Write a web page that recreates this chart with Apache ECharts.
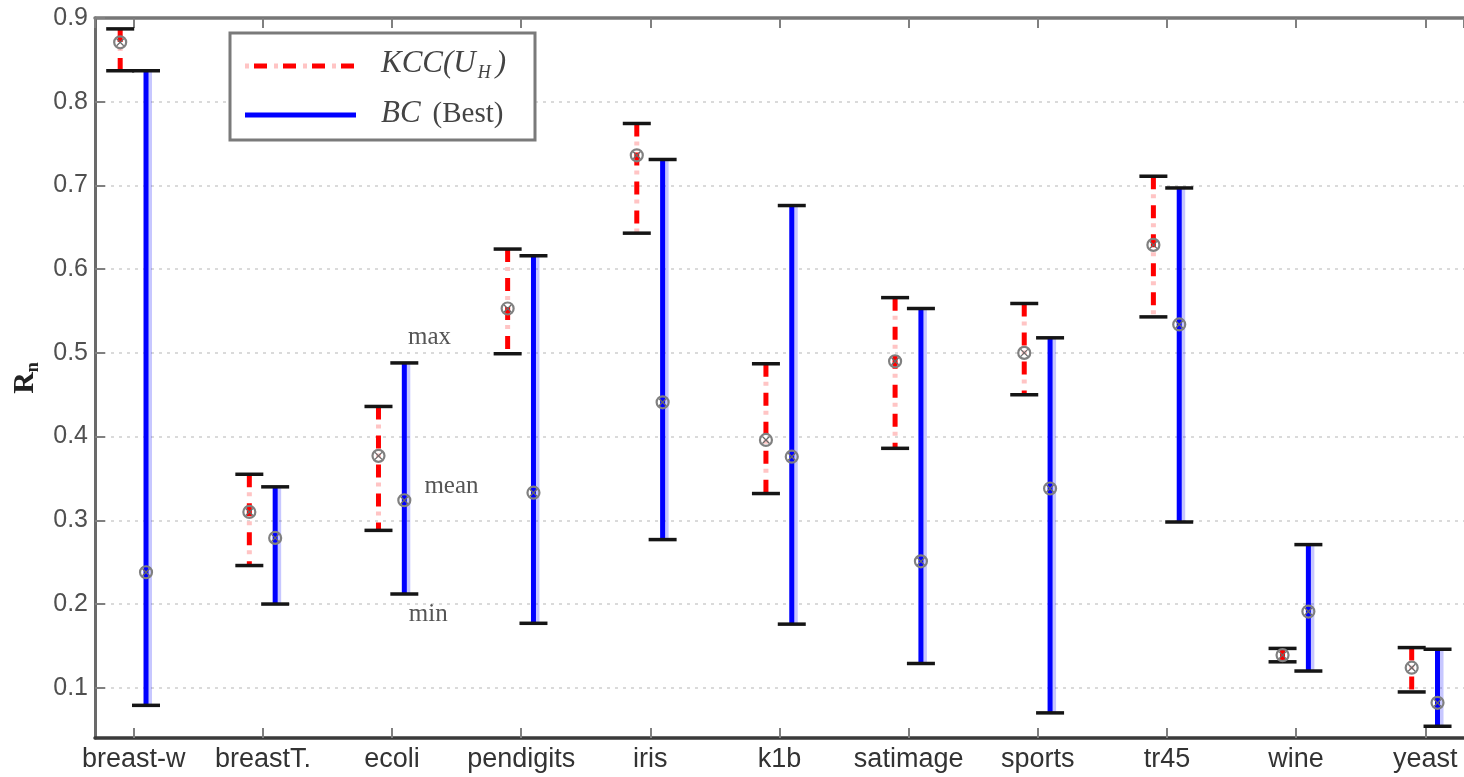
<!DOCTYPE html>
<html><head><meta charset="utf-8">
<script src="https://cdn.jsdelivr.net/npm/echarts@6/dist/echarts.min.js"></script>
<style>html,body{margin:0;padding:0;background:#fff}#c{width:1464px;height:777px}</style>
</head><body><div id="c"></div>
<script>
// ---- data ----
const categories = ['breast-w','breastT.','ecoli','pendigits','iris','k1b','satimage','sports','tr45','wine','yeast'];
const kccMin  = [0.837, 0.246, 0.288, 0.499, 0.643, 0.332, 0.386, 0.450, 0.543, 0.131, 0.095];
const kccMean = [0.871, 0.310, 0.377, 0.553, 0.736, 0.396, 0.490, 0.500, 0.629, 0.139, 0.124];
const kccMax  = [0.887, 0.355, 0.436, 0.624, 0.774, 0.487, 0.566, 0.559, 0.711, 0.147, 0.148];
const bcMin   = [0.079, 0.200, 0.212, 0.177, 0.277, 0.176, 0.129, 0.070, 0.298, 0.120, 0.054];
const bcMean  = [0.238, 0.279, 0.324, 0.333, 0.441, 0.376, 0.251, 0.338, 0.534, 0.191, 0.082];
const bcMax   = [0.837, 0.340, 0.488, 0.616, 0.731, 0.676, 0.553, 0.518, 0.697, 0.271, 0.146];
const yTickLabels = ['0.1','0.2','0.3','0.4','0.5','0.6','0.7','0.8','0.9'];
const annotationTexts = ['max', 'mean', 'min'];
const annotationPos = [[2.29, 0.518], [2.46, 0.341], [2.28, 0.188]];

const kccData = categories.map((c, i) => [i, kccMin[i], kccMean[i], kccMax[i]]);
const bcData = categories.map((c, i) => [i, bcMin[i], bcMean[i], bcMax[i]]);

function makeRender(kind) {
  return function (params, api) {
    const x = api.value(0) + (kind === 'kcc' ? -0.105 : 0.095);
    const lo = api.coord([x, api.value(1)]);
    const mid = api.coord([x, api.value(2)]);
    const hi = api.coord([x, api.value(3)]);
    const half = 14;
    const seg = {x1: hi[0], y1: hi[1], x2: lo[0], y2: lo[1]};
    const ch = [];
    if (kind === 'kcc') {
      ch.push({type: 'line', shape: seg, style: {stroke: '#ffc4c4', lineWidth: 5, lineDash: [4, 25], lineDashOffset: 11}});
      ch.push({type: 'line', shape: seg, style: {stroke: '#ff0000', lineWidth: 5, lineDash: [13, 16]}});
    } else {
      ch.push({type: 'line', shape: {x1: hi[0] + 2, y1: hi[1], x2: lo[0] + 2, y2: lo[1]}, style: {stroke: 'rgba(0,0,255,0.22)', lineWidth: 8}});
      ch.push({type: 'line', shape: seg, style: {stroke: '#0000ff', lineWidth: 5}});
    }
    ch.push({type: 'line', shape: {x1: hi[0] - half, y1: hi[1], x2: hi[0] + half, y2: hi[1]}, style: {stroke: '#151515', lineWidth: 3.5}});
    ch.push({type: 'line', shape: {x1: lo[0] - half, y1: lo[1], x2: lo[0] + half, y2: lo[1]}, style: {stroke: '#151515', lineWidth: 3.5}});
    ch.push({type: 'circle', shape: {cx: mid[0], cy: mid[1], r: 6}, style: {fill: 'none', stroke: '#808080', lineWidth: 2.2}});
    ch.push({type: 'line', shape: {x1: mid[0] - 3.5, y1: mid[1] - 3.5, x2: mid[0] + 3.5, y2: mid[1] + 3.5}, style: {stroke: '#6a6a6a', lineWidth: 1.3}});
    ch.push({type: 'line', shape: {x1: mid[0] - 3.5, y1: mid[1] + 3.5, x2: mid[0] + 3.5, y2: mid[1] - 3.5}, style: {stroke: '#6a6a6a', lineWidth: 1.3}});
    return {type: 'group', children: ch};
  };
}

const xFmt = v => (Number.isInteger(v) && categories[v] !== undefined) ? categories[v] : '';
const yFmt = v => {
  const s = v.toFixed(1);
  return (Math.abs(v * 10 - Math.round(v * 10)) < 1e-6 && yTickLabels.includes(s)) ? s : '';
};

const chart = echarts.init(document.getElementById('c'), null, {renderer: 'canvas'});
const serif = '"Liberation Serif", "DejaVu Serif", serif';
const sans = '"Liberation Sans", Arial, sans-serif';

chart.setOption({
  animation: false,
  backgroundColor: '#fff',
  grid: {left: 95, right: 0, top: 18, bottom: 39, containLabel: false},
  xAxis: [{
    type: 'value', min: -0.3, max: 10.3, minInterval: 1, maxInterval: 1, position: 'bottom',
    axisLine: {show: true, onZero: false, lineStyle: {color: '#3a3a3a', width: 3.5}},
    axisTick: {show: true, inside: true, length: 10, lineStyle: {color: '#808080', width: 2}},
    axisLabel: {formatter: xFmt, fontSize: 27, color: '#333', fontFamily: sans, margin: 8, showMinLabel: false, showMaxLabel: false},
    splitLine: {show: false}
  }, {
    type: 'value', min: -0.3, max: 10.3, minInterval: 1, maxInterval: 1, position: 'top',
    axisLine: {show: true, onZero: false, lineStyle: {color: '#777', width: 3.5}},
    axisTick: {show: true, inside: true, length: 10, lineStyle: {color: '#808080', width: 2}},
    axisLabel: {show: false},
    splitLine: {show: false}
  }],
  yAxis: {
    type: 'value', min: 0.04, max: 0.9, minInterval: 0.1, maxInterval: 0.1, splitNumber: 9,
    name: '{R|R}{n|n}', nameLocation: 'middle', nameGap: 45, nameRotate: 90,
    nameTextStyle: {rich: {
      R: {fontFamily: serif, fontWeight: 'bold', fontSize: 30, color: '#222', lineHeight: 34},
      n: {fontFamily: serif, fontWeight: 'bold', fontSize: 18, color: '#222', verticalAlign: 'bottom', lineHeight: 34, padding: [14, 0, 0, 0]}
    }},
    axisLine: {show: true, onZero: false, lineStyle: {color: '#6a6a6a', width: 3}},
    axisTick: {show: true, inside: true, length: 10, lineStyle: {color: '#808080', width: 2}},
    axisLabel: {formatter: yFmt, fontSize: 25, color: '#505050', fontFamily: sans, margin: 7, showMinLabel: false},
    splitLine: {show: true, lineStyle: {color: '#dadada', width: 2, type: [3, 5]}}
  },
  series: [
    {name: 'KCC(U_H)', type: 'custom', renderItem: makeRender('kcc'), data: kccData, encode: {x: 0, y: [1, 2, 3]}, z: 3},
    {name: 'BC (Best)', type: 'custom', renderItem: makeRender('bc'), data: bcData, encode: {x: 0, y: [1, 2, 3]}, z: 3},
    {name: 'annotations', type: 'custom', data: annotationPos, encode: {x: 0, y: 1}, z: 4,
      renderItem: function (params, api) {
        const p = api.coord([api.value(0), api.value(1)]);
        return {type: 'text', x: p[0], y: p[1], style: {text: annotationTexts[params.dataIndex], fill: '#555', font: '25px ' + serif, align: 'center', verticalAlign: 'middle'}};
      }}
  ],
  graphic: [
    {type: 'rect', z: 100, shape: {x: 230, y: 33, width: 305, height: 107}, style: {fill: '#fff', stroke: '#7a7a7a', lineWidth: 3}},
    {type: 'line', z: 101, shape: {x1: 245, y1: 66, x2: 356, y2: 66}, style: {stroke: '#ffc4c4', lineWidth: 5, lineDash: [4, 25]}},
    {type: 'line', z: 101, shape: {x1: 245, y1: 66, x2: 356, y2: 66}, style: {stroke: '#ff0000', lineWidth: 5, lineDash: [13, 16], lineDashOffset: 20}},
    {type: 'line', z: 101, shape: {x1: 245, y1: 115, x2: 356, y2: 115}, style: {stroke: '#0000ff', lineWidth: 5}},
    {type: 'text', z: 101, x: 381, y: 64, style: {
      text: '{i|KCC(U}{s|H}{i|)}', verticalAlign: 'middle', align: 'left',
      rich: {
        i: {fontFamily: serif, fontStyle: 'italic', fontSize: 31, fill: '#444', lineHeight: 36},
        s: {fontFamily: serif, fontStyle: 'italic', fontSize: 18, fill: '#444', verticalAlign: 'bottom', lineHeight: 36, padding: [12, 5, 0, 2]}
      }}},
    {type: 'text', z: 101, x: 381, y: 114, style: {
      text: '{i|BC}{r|(Best)}', verticalAlign: 'middle', align: 'left',
      rich: {
        i: {fontFamily: serif, fontStyle: 'italic', fontSize: 31, fill: '#444', lineHeight: 36, padding: [0, 12, 0, 0]},
        r: {fontFamily: serif, fontSize: 29, fill: '#444', lineHeight: 36}
      }}}
  ]
});
</script></body></html>
